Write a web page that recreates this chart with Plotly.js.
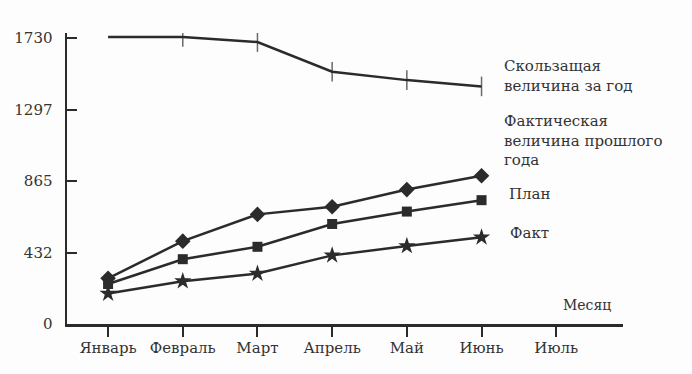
<!DOCTYPE html>
<html>
<head>
<meta charset="utf-8">
<script src="https://cdn.plot.ly/plotly-3.0.1.min.js"></script>
<style>html,body{margin:0;padding:0;background:#fdfdfd;}#chart{width:692px;height:374px;}</style>
</head>
<body>
<div id="chart"></div>
<script>
const months = ["Январь", "Февраль", "Март", "Апрель", "Май", "Июнь", "Июль"];
const dataMonths = ["Январь", "Февраль", "Март", "Апрель", "Май", "Июнь"];
const movingYear = [1736, 1736, 1705, 1526, 1475, 1437];
const lastYearActual = [276, 501, 663, 709, 813, 897];
const plan = [242, 392, 467, 605, 680, 749];
const fact = [184, 259, 305, 415, 472, 524];
const yTicks = [0, 432, 865, 1297, 1730];
const seriesLabels = ["Скользащая<br>величина за год", "Фактическая<br>величина прошлого<br>года", "План", "Факт"];
const xAxisLabel = "Месяц";

const ink = "#2b2b2b";
const font = "DejaVu Serif, Liberation Serif, serif";

const traces = [
  {x: dataMonths, y: movingYear, mode: "lines+markers", line: {color: ink, width: 2.5},
   marker: {symbol: "line-ns", size: [0, 14, 14, 14, 14, 14], line: {color: ink, width: 1.5}, color: ink}},
  {x: dataMonths, y: lastYearActual, mode: "lines+markers", line: {color: ink, width: 2.5},
   marker: {symbol: "diamond", size: 12, color: ink}},
  {x: dataMonths, y: plan, mode: "lines+markers", line: {color: ink, width: 2.5},
   marker: {symbol: "square", size: 10, color: ink}},
  {x: dataMonths, y: fact, mode: "lines+markers", line: {color: ink, width: 2.5},
   marker: {symbol: "star", size: 13, color: ink}}
];

const annPos = [[0.782, 0.852], [0.782, 0.632], [0.791, 0.447], [0.793, 0.313]];
const annotations = seriesLabels.map((t, i) => ({
  text: t, xref: "paper", yref: "paper", x: annPos[i][0], y: annPos[i][1],
  xanchor: "left", yanchor: "middle", align: "left", showarrow: false,
  font: {family: font, size: 15, color: "#333"}
}));
annotations.push({text: xAxisLabel, xref: "paper", yref: "paper", x: 0.935, y: 0.065,
  xanchor: "center", yanchor: "middle", showarrow: false,
  font: {family: font, size: 14, color: "#333"}});

const layout = {
  width: 692, height: 374,
  margin: {l: 67, r: 69, t: 33, b: 50},
  paper_bgcolor: "#fdfdfd", plot_bgcolor: "#fdfdfd",
  showlegend: false,
  xaxis: {type: "category", categoryarray: months, categoryorder: "array",
    range: [-0.55, 6.894], showgrid: false, zeroline: false,
    showline: true, linecolor: ink, linewidth: 2.5,
    ticks: "outside", ticklen: 10, tickwidth: 2, tickcolor: ink,
    ticklabelstandoff: -2,
    tickfont: {family: font, size: 15, color: "#333"}},
  yaxis: {range: [0, 1760], showgrid: false, zeroline: false,
    showline: true, linecolor: ink, linewidth: 2.5,
    tickvals: yTicks, ticktext: yTicks.map(String),
    ticks: "inside", ticklen: 10, tickwidth: 2, tickcolor: ink,
    ticklabelstandoff: 9,
    tickfont: {family: font, size: 15, color: "#333"}},
  annotations: annotations
};
traces.push({x: months, y: months.map(() => null), mode: "lines", hoverinfo: "skip", showlegend: false});
Plotly.newPlot("chart", traces, layout, {staticPlot: true, displayModeBar: false});
</script>
</body>
</html>
